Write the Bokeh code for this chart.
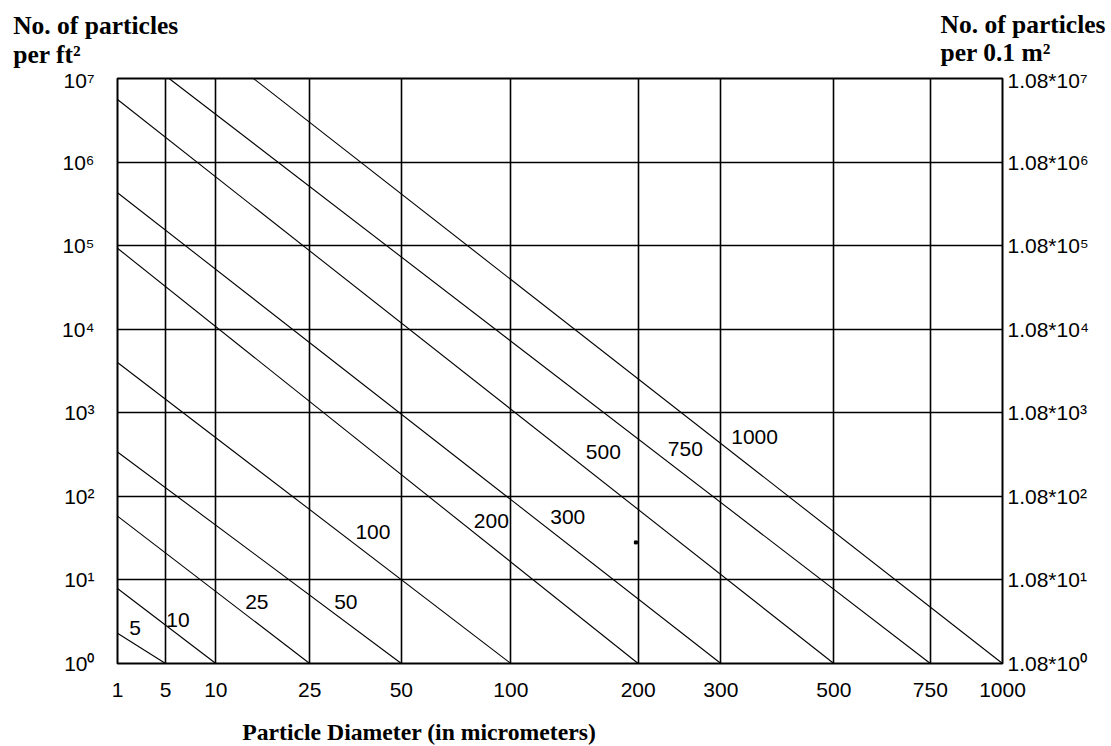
import numpy as np
from bokeh.plotting import figure
from bokeh.layouts import column
from bokeh.models import FixedTicker, LogAxis, Range1d, ColumnDataSource
from bokeh.embed import file_html
from bokeh.resources import INLINE
from bokeh.core.properties import value

# ---------------- data ----------------
tick_diameters = [1, 5, 10, 25, 50, 100, 200, 300, 500, 750, 1000]
tick_exponents = [0, 1, 2, 3, 4, 5, 6, 7]

class_levels = [5, 10, 25, 50, 100, 200, 300, 500, 750, 1000]
# each class line runs straight from a start point to (level, 1)
line_start_diam = [1, 1, 1, 1, 1, 1, 1, 1, 5.3, 15.0]
line_start_count = [2.3, 7.9, 58, 340, 4000, 93000, 430000, 5.6e6, 1e7, 1e7]
line_end_diam = [5, 10, 25, 50, 100, 200, 300, 500, 750, 1000]
line_end_count = [1, 1, 1, 1, 1, 1, 1, 1, 1, 1]

# where each class label sits
label_diam = [2.65, 6.09, 15.5, 33.4, 40.9, 89.1, 138, 167, 253, 351]
label_count = [2.68, 3.31, 5.48, 5.38, 37.8, 51.2, 57.1, 343, 370, 509]

# small stray mark in the original
stray_diam = [197.7]
stray_count = [28.1]

left_title = ["No. of particles", "per ft²"]
right_title = ["No. of particles", "per 0.1 m²"]
x_title = "Particle Diameter (in micrometers)"


def xt(d):
    """x position of a diameter on the (log d)^2 scale of the chart"""
    return np.log10(np.asarray(d, dtype=float)) ** 2


SUP = str.maketrans("0123456789", "⁰¹²³⁴⁵⁶⁷⁸⁹")
y_ticks = [10 ** e for e in tick_exponents]
left_labels = {10 ** e: "10" + str(e).translate(SUP) for e in tick_exponents}
right_labels = {10 ** e: "1.08*10" + str(e).translate(SUP) for e in tick_exponents}
x_tick_pos = [float(v) for v in xt(tick_diameters)]
x_labels = {pos: str(d) for pos, d in zip(x_tick_pos, tick_diameters)}

W = 1111
HEAD_H = 68
FOOT_H = 41
MAIN_H = 746 - HEAD_H - FOOT_H
BASE_SHIFT = 8  # bokeh draws "alphabetic" text a little lower

SANS = "Liberation Sans"
SANS_SIZE = "21px"
SERIF = "Liberation Serif"


def text_strip(height):
    f = figure(width=W, height=height, x_range=Range1d(0, W),
               y_range=Range1d(height, 0), output_backend="svg",
               toolbar_location=None, x_axis_location=None,
               y_axis_location=None, min_border=0, frame_align=False)
    f.outline_line_color = None
    f.xgrid.visible = False
    f.ygrid.visible = False
    f.background_fill_color = "white"
    f.border_fill_color = "white"
    return f


# ---------------- header with the two axis titles ----------------
head = text_strip(HEAD_H)
hsrc = ColumnDataSource(dict(
    x=[12.7, 12.7, 940, 940],
    y=[33.3 - BASE_SHIFT, 61.7 - BASE_SHIFT, 31.7 - BASE_SHIFT, 60.0 - BASE_SHIFT],
    t=left_title + right_title))
head.text(x="x", y="y", text="t", source=hsrc, text_align="left",
          text_baseline="alphabetic", text_font=value(SERIF),
          text_font_style="bold", text_font_size=value("25.5px"),
          text_color="black")

# ---------------- main chart ----------------
p = figure(width=W, height=MAIN_H, y_axis_type="log",
           x_range=Range1d(0, 9), y_range=Range1d(1, 1e7),
           output_backend="svg", toolbar_location=None,
           frame_align=False,
           min_border_left=117, min_border_right=W - 1002,
           min_border_top=78 - HEAD_H,
           min_border_bottom=MAIN_H - (663 - HEAD_H))
p.background_fill_color = "white"
p.border_fill_color = "white"
p.outline_line_color = "black"
p.outline_line_width = 2

xticker = FixedTicker(ticks=x_tick_pos, minor_ticks=[])
yticker = FixedTicker(ticks=y_ticks, minor_ticks=[])


def style_axis(ax, standoff):
    ax.axis_line_color = None
    ax.major_tick_line_color = None
    ax.minor_tick_line_color = None
    ax.major_tick_out = 0
    ax.major_tick_in = 0
    ax.minor_tick_out = 0
    ax.minor_tick_in = 0
    ax.major_label_standoff = standoff
    ax.major_label_text_font = SANS
    ax.major_label_text_font_size = SANS_SIZE
    ax.major_label_text_color = "black"


xa = p.xaxis[0]
xa.ticker = xticker
xa.major_label_overrides = x_labels
style_axis(xa, 19)

ya = p.yaxis[0]
ya.ticker = yticker
ya.major_label_overrides = left_labels
style_axis(ya, 23)

ra = LogAxis(ticker=yticker, major_label_overrides=right_labels)
style_axis(ra, 5)
p.add_layout(ra, "right")

p.xgrid.ticker = xticker
p.ygrid.ticker = yticker
for g in (p.xgrid, p.ygrid):
    g.grid_line_color = "black"
    g.grid_line_width = 1.6
    g.grid_line_alpha = 1.0

src = ColumnDataSource(dict(
    x0=xt(line_start_diam), y0=line_start_count,
    x1=xt(line_end_diam), y1=line_end_count))
p.segment(x0="x0", y0="y0", x1="x1", y1="y1", source=src,
          line_color="black", line_width=1.1)

lsrc = ColumnDataSource(dict(x=xt(label_diam), y=label_count,
                             t=[str(v) for v in class_levels]))
p.text(x="x", y="y", text="t", source=lsrc, text_align="center",
       text_baseline="middle", text_font=value(SANS),
       text_font_size=value(SANS_SIZE), text_color="black")

p.scatter(x=xt(stray_diam), y=stray_count, marker="square", size=3,
          color="black")

# ---------------- footer with the x title ----------------
foot = text_strip(FOOT_H)
fsrc = ColumnDataSource(dict(x=[241.7],
                             y=[739.5 - BASE_SHIFT - (HEAD_H + MAIN_H)],
                             t=[x_title]))
foot.text(x="x", y="y", text="t", source=fsrc, text_align="left",
          text_baseline="alphabetic", text_font=value(SERIF),
          text_font_style="bold", text_font_size=value("23.7px"),
          text_color="black")

layout = column(head, p, foot, spacing=0)
open("out.html", "w").write(file_html(layout, INLINE))
